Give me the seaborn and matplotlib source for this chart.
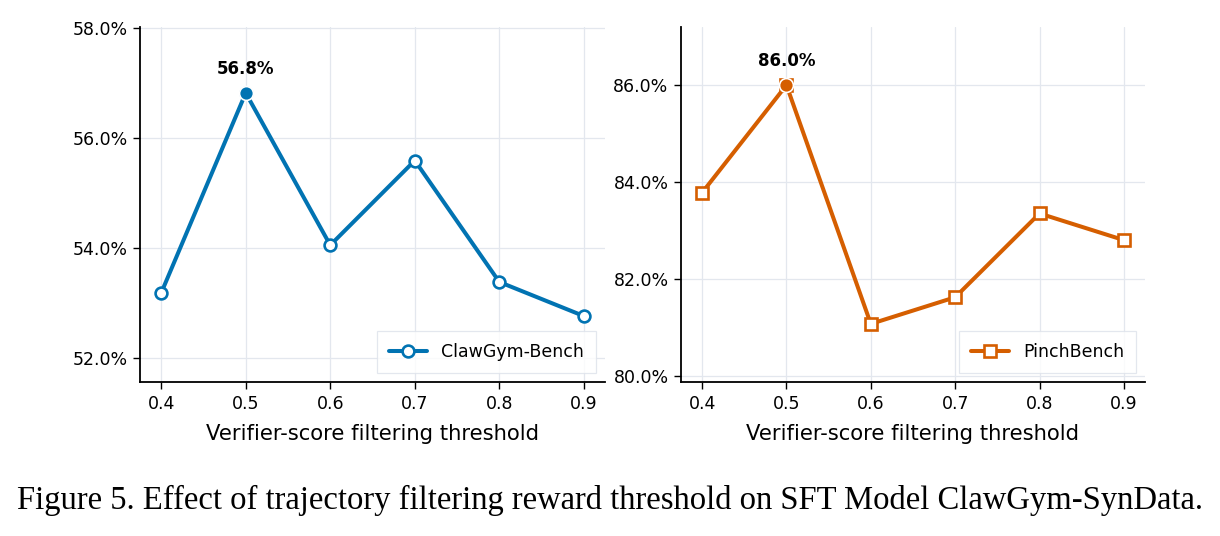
import matplotlib
matplotlib.use("Agg")
import matplotlib.pyplot as plt
import seaborn as sns
import pandas as pd
from matplotlib.ticker import FuncFormatter

thresholds = [0.4, 0.5, 0.6, 0.7, 0.8, 0.9]
claw_scores = [53.18, 56.82, 54.05, 55.59, 53.38, 52.76]
pinch_scores = [83.78, 86.0, 81.07, 81.62, 83.35, 82.8]
series_names = ["ClawGym-Bench", "PinchBench"]
xlabel = "Verifier-score filtering threshold"
caption = "Figure 5. Effect of trajectory filtering reward threshold on SFT Model ClawGym-SynData."

sns.set_theme(style="white")
plt.rcParams['font.family'] = ['DejaVu Sans']
plt.rcParams['text.color'] = 'black'
plt.rcParams['axes.labelcolor'] = 'black'
plt.rcParams['xtick.color'] = 'black'
plt.rcParams['ytick.color'] = 'black'

pal = sns.color_palette("colorblind")
colors = [pal[0], pal[3]]
markers = ["o", "s"]

fig = plt.figure(figsize=(12.2, 5.36), dpi=100)
axes = [fig.add_axes([0.1148, 0.2873, 0.3811, 0.6623]),
        fig.add_axes([0.5582, 0.2873, 0.3803, 0.6623])]

for ax, name, vals, col, mk, yt in zip(axes, series_names, [claw_scores, pinch_scores],
                                       colors, markers,
                                       [[52, 54, 56, 58], [80, 82, 84, 86]]):
    df = pd.DataFrame({"x": thresholds, "y": vals})
    sns.lineplot(data=df, x="x", y="y", ax=ax, color=col, lw=2.9, marker=mk,
                 markersize=8.5 if mk == "o" else 8, markerfacecolor="white",
                 markeredgecolor=col, markeredgewidth=1.9, label=name, zorder=3)
    i = max(range(len(vals)), key=lambda k: vals[k])
    peak = pd.DataFrame({"x": [thresholds[i]], "y": [vals[i]]})
    sns.scatterplot(data=peak, x="x", y="y", ax=ax, color=col, s=100,
                    edgecolor="white", linewidth=1.2, zorder=5, legend=False)
    ax.annotate(f"{vals[i]:.1f}%", (thresholds[i], vals[i]), xytext=(0, 11),
                textcoords="offset points", ha="center", va="bottom",
                fontsize=12, fontweight="bold", color="black")
    ax.set_xlim(0.375, 0.925)
    ax.set_ylim(min(vals) - 1.2, max(vals) + 1.2)
    ax.set_xticks(thresholds)
    ax.set_xticklabels([f"{t:.1f}" for t in thresholds])
    ax.set_yticks(yt)
    ax.yaxis.set_major_formatter(FuncFormatter(lambda v, p: f"{v:.1f}%"))
    ax.grid(True, color="#e3e7ee", lw=0.9)
    ax.set_axisbelow(True)
    for s in ["top", "right"]:
        ax.spines[s].set_visible(False)
    for s in ["left", "bottom"]:
        ax.spines[s].set_color("black")
        ax.spines[s].set_linewidth(1.3)
    ax.tick_params(axis="both", which="both", direction="out", length=5, width=1,
                   color="black", labelsize=12.5, left=True, bottom=True, pad=4)
    ax.set_xlabel(xlabel, fontsize=15.2, labelpad=8)
    ax.set_ylabel("")
    leg = ax.legend(loc="lower right", fontsize=12.5, frameon=True, fancybox=False,
                    borderpad=0.7, handlelength=2.2, borderaxespad=0.5)
    leg.get_frame().set_edgecolor("#dde2ea")
    leg.get_frame().set_linewidth(0.9)

fig.text(0.5, 0.066, caption, ha="center", va="center", fontsize=23.5,
         color="black", family=["Liberation Serif", "DejaVu Serif"])

fig.savefig("out.png", dpi=100)
